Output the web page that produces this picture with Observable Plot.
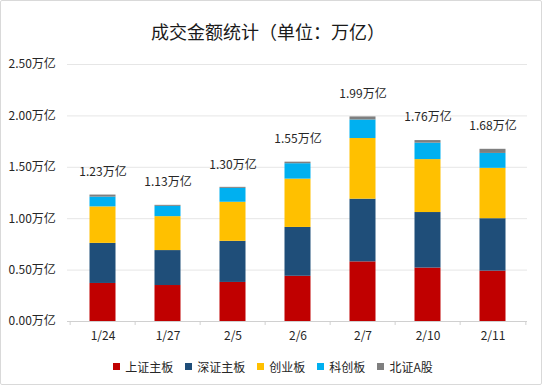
<!DOCTYPE html>
<html>
<head>
<meta charset="utf-8">
<script src="https://cdn.jsdelivr.net/npm/d3@7"></script>
<script src="https://cdn.jsdelivr.net/npm/@observablehq/plot@0.6"></script>
<style>
  html, body { margin: 0; padding: 0; background: #fff; }
  body { width: 542px; height: 388px; position: relative; overflow: hidden;
         font-family: "Noto Sans CJK SC", "Noto Sans", sans-serif; color: #262626; }
  #frame { position: absolute; left: 0; top: 0; width: 542px; height: 385px;
           box-sizing: border-box; border: 1px solid #d9d9d9; border-radius: 2px; }
  #title { position: absolute; left: 0; width: 536px; top: 18px; text-align: center;
           font-size: 18px; line-height: 26px; color: #1a1a1a; }
  #chart { position: absolute; left: 0; top: 0; }
  #legend { position: absolute; top: 357px; left: 0; width: 542px; height: 18px;
            display: flex; justify-content: center; align-items: center;
            font-size: 12px; color: #262626; padding-left: 4px; box-sizing: border-box; }
  .item { display: flex; align-items: center; margin: 0 6px; }
  .sw { width: 7px; height: 7px; margin-right: 5px; }
</style>
</head>
<body>
<div id="frame"></div>
<div id="chart"></div>
<div id="title">成交金额统计（单位：万亿）</div>
<div id="legend"></div>
<script>
// Categories (trading dates)
const dates = ["1/24", "1/27", "2/5", "2/6", "2/7", "2/10", "2/11"];

// Series (万亿)
const seriesNames = ["上证主板", "深证主板", "创业板", "科创板", "北证A股"];
const shMain  = [0.37, 0.35, 0.38, 0.44, 0.58, 0.52, 0.49];
const szMain  = [0.39, 0.34, 0.40, 0.475, 0.61, 0.54, 0.51];
const chiNext = [0.355, 0.33, 0.38, 0.47, 0.59, 0.515, 0.49];
const star    = [0.095, 0.10, 0.135, 0.15, 0.18, 0.16, 0.145];
const bse     = [0.02, 0.01, 0.01, 0.015, 0.03, 0.025, 0.04];

// Total labels
const totals = [1.23, 1.13, 1.30, 1.55, 1.99, 1.76, 1.68];

// Y axis ticks
const yTicks = [0, 0.5, 1.0, 1.5, 2.0, 2.5];
const yTickLabels = ["0.00万亿", "0.50万亿", "1.00万亿", "1.50万亿", "2.00万亿", "2.50万亿"];

const colors = ["#C00000", "#1F4E79", "#FFC000", "#00B0F0", "#7F7F7F"];

const seriesValues = [shMain, szMain, chiNext, star, bse];
const rows = [];
dates.forEach((d, i) => {
  seriesNames.forEach((s, j) => rows.push({date: d, series: s, value: seriesValues[j][i]}));
});
const totalRows = dates.map((d, i) => ({date: d, total: totals[i]}));
const yRows = yTicks.map((v, i) => ({v, label: yTickLabels[i]}));

const W = 542, H = 350, ML = 67, MR = 15, MT = 64, MB = 29;
const bw = (W - ML - MR) / dates.length;

const chart = Plot.plot({
  width: W,
  height: H,
  marginLeft: ML,
  marginRight: MR,
  marginTop: MT,
  marginBottom: MB,
  style: {fontFamily: "'Noto Sans CJK SC', 'Noto Sans', sans-serif", fontSize: "12px", color: "#262626", background: "transparent"},
  x: {domain: dates, padding: 0, axis: null},
  y: {domain: [0, 2.5], axis: null},
  color: {domain: seriesNames, range: colors},
  marks: [
    Plot.ruleY(yTicks.filter(v => v > 0), {stroke: "#e6e6e6", strokeWidth: 1}),
    Plot.barY(rows, {x: "date", y: "value", fill: "series", order: seriesNames, insetLeft: 19.5, insetRight: 19.5}),
    Plot.ruleY([0], {stroke: "#d0d0d0", strokeWidth: 1}),
    Plot.ruleX(dates, {x: d => d, y1: () => 0, y2: () => 0, insetBottom: -4, dx: -bw / 2, stroke: "#d0d0d0"}),
    Plot.ruleX([dates[dates.length - 1]], {x: d => d, y1: () => 0, y2: () => 0, insetBottom: -4, dx: bw / 2, stroke: "#d0d0d0"}),
    Plot.text(dates, {x: d => d, frameAnchor: "bottom", dy: 18, text: d => d, fill: "#262626", fontSize: 12}),
    Plot.text(yRows, {y: "v", text: "label", frameAnchor: "left", textAnchor: "start", dx: 8 - ML, fill: "#262626", fontSize: 12}),
    Plot.text(totalRows, {x: "date", y: "total", text: d => d.total.toFixed(2) + "万亿", dy: -23, fill: "#262626", fontSize: 12})
  ]
});
document.getElementById("chart").appendChild(chart);

const legend = document.getElementById("legend");
seriesNames.forEach((s, i) => {
  const item = document.createElement("div");
  item.className = "item";
  const sw = document.createElement("span");
  sw.className = "sw";
  sw.style.background = colors[i];
  const t = document.createElement("span");
  t.textContent = s;
  item.appendChild(sw);
  item.appendChild(t);
  legend.appendChild(item);
});
</script>
</body>
</html>
